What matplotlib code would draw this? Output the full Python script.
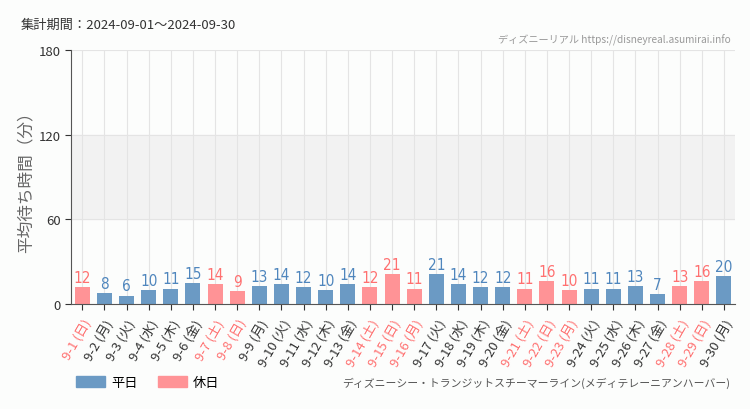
import matplotlib.pyplot as plt
from matplotlib.patches import Patch

plt.rcParams['font.family'] = ['Noto Sans CJK JP', 'DejaVu Sans']

# data
days = ['9-1', '9-2', '9-3', '9-4', '9-5', '9-6', '9-7', '9-8', '9-9', '9-10',
        '9-11', '9-12', '9-13', '9-14', '9-15', '9-16', '9-17', '9-18', '9-19', '9-20',
        '9-21', '9-22', '9-23', '9-24', '9-25', '9-26', '9-27', '9-28', '9-29', '9-30']
weekdays = ['日', '月', '火', '水', '木', '金', '土', '日', '月', '火',
            '水', '木', '金', '土', '日', '月', '火', '水', '木', '金',
            '土', '日', '月', '火', '水', '木', '金', '土', '日', '月']
waits = [12, 8, 6, 10, 11, 15, 14, 9, 13, 14,
         12, 10, 14, 12, 21, 11, 21, 14, 12, 12,
         11, 16, 10, 11, 11, 13, 7, 13, 16, 20]
holiday = [1, 0, 0, 0, 0, 0, 1, 1, 0, 0,
           0, 0, 0, 1, 1, 1, 0, 0, 0, 0,
           1, 1, 1, 0, 0, 0, 0, 1, 1, 0]

blue = '#6b9ac4'
pink = '#ff9396'
blue_txt = '#4f86bd'
pink_txt = '#ff7070'

fig = plt.figure(figsize=(7.5, 4.1), dpi=100, facecolor='#fcfdfc')
ax = fig.add_axes([0.095, 0.256, 0.885, 0.62])
ax.set_facecolor('#fcfdfc')

x = list(range(len(days)))
colors = [pink if h else blue for h in holiday]
ax.axhspan(60, 120, color='#f2f2f2', zorder=0)
for i in x:
    ax.axvline(i, color='#e4e4e4', lw=0.8, zorder=0.5)
for yv in [60, 120, 180]:
    ax.axhline(yv, color='#e4e4e4', lw=0.8, zorder=0.5)
ax.bar(x, waits, width=0.68, color=colors, zorder=2)

for i in x:
    c = pink_txt if holiday[i] else blue_txt
    ax.text(i, waits[i] + 1.5, str(waits[i]), ha='center', va='bottom',
            fontsize=11, color=c, family='DejaVu Sans', fontstretch='condensed')

ax.set_xlim(-0.5, len(days) - 0.5)
ax.set_ylim(0, 180)
ax.set_yticks([0, 60, 120, 180])
ax.set_xticks(x)
ax.set_xticklabels([d + ' (' + w + ')' for d, w in zip(days, weekdays)],
                   rotation=60, ha='right', rotation_mode='anchor', fontsize=9.5)
for lab, h in zip(ax.get_xticklabels(), holiday):
    lab.set_color(pink_txt if h else '#333333')
ax.tick_params(axis='y', labelsize=9.5, colors='#333333', length=4)
ax.tick_params(axis='x', length=4, color='#333333', pad=5)
for s in ['top', 'right']:
    ax.spines[s].set_visible(False)
ax.spines['left'].set_color('#555555')
ax.spines['bottom'].set_color('#555555')
ax.set_ylabel('平均待ち時間（分）', fontsize=12, color='#666666')
ax.yaxis.set_label_coords(-0.056, 0.5)

fig.text(0.027, 0.93, '集計期間：2024-09-01～2024-09-30', fontsize=9.5, color='#333333')
fig.text(0.975, 0.895, 'ディズニーリアル https://disneyreal.asumirai.info', fontsize=7.3,
         color='#999999', ha='right')
fig.text(0.973, 0.057, 'ディズニーシー・トランジットスチーマーライン(メディテレーニアンハーバー)',
         fontsize=7.8, color='#555555', ha='right')

handles = [Patch(color=blue, label='平日'), Patch(color=pink, label='休日')]
fig.legend(handles=handles, loc='lower left', bbox_to_anchor=(0.085, 0.02), ncol=2,
           frameon=False, fontsize=9.5, handlelength=2.2, handleheight=0.9,
           columnspacing=1.5, handletextpad=0.5)

fig.savefig('out.png', dpi=100, facecolor=fig.get_facecolor())
